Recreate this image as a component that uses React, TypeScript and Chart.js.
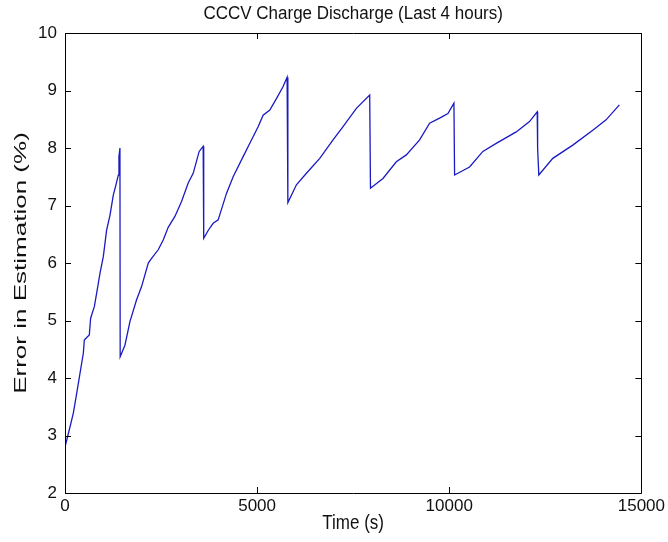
import React, { useEffect, useRef } from "react";
import { Chart, registerables } from "chart.js";

Chart.register(...registerables);

const TITLE = "CCCV Charge Discharge (Last 4 hours)";
const X_TITLE = "Time (s)";
const Y_TITLE = "Error in Estimation (%)";

const timeSec: number[] = [
  0, 112, 217, 303, 390, 477, 503, 560, 633, 667, 763, 823, 910, 997, 1083, 1170, 1257, 1326, 1387, 1404, 1430,
  1436, 1560, 1690, 1863, 1993, 2167, 2253, 2426, 2556, 2686, 2860, 3033, 3206, 3336, 3492, 3596,
  3610, 3730, 3856, 3986, 4203, 4376, 4636, 4853, 5026, 5156, 5330, 5503, 5676, 5780,
  5800, 6023, 6283, 6630, 6976, 7236, 7583, 7930,
  7950, 8275, 8623, 8883, 9229, 9489, 9749, 9966, 10122,
  10139, 10529, 10875, 11223, 11743, 12089, 12289,
  12300, 12331, 12695, 13215, 13735, 14082, 14428,
];
const errorPct: number[] = [
  2.80, 3.10, 3.39, 3.73, 4.08, 4.43, 4.66, 4.70, 4.75, 5.04, 5.24, 5.47, 5.82, 6.11, 6.57, 6.83, 7.18, 7.36, 7.53, 7.85, 8.00,
  4.37, 4.57, 4.98, 5.36, 5.59, 6.00, 6.08, 6.23, 6.40, 6.62, 6.81, 7.07, 7.39, 7.56, 7.94, 8.03,
  6.43, 6.57, 6.69, 6.75, 7.21, 7.50, 7.85, 8.14, 8.37, 8.57, 8.66, 8.86, 9.07, 9.23,
  7.05, 7.36, 7.56, 7.82, 8.14, 8.37, 8.69, 8.92,
  7.30, 7.47, 7.76, 7.88, 8.14, 8.43, 8.52, 8.60, 8.78,
  7.53, 7.67, 7.94, 8.08, 8.28, 8.46, 8.63,
  8.00, 7.53, 7.82, 8.05, 8.31, 8.49, 8.75,
];

const X_MIN = 0, X_MAX = 15000, X_STEP = 5000;
const Y_MIN = 2, Y_MAX = 10, Y_STEP = 1;

const TEXT_FONT = "'Liberation Sans', Arial, sans-serif";

const framePlugin = {
  id: "matlabFrame",
  afterDraw(chart: any) {
    const ctx = chart.ctx as CanvasRenderingContext2D;
    const { left, right, top, bottom } = chart.chartArea;
    const xs = chart.scales.x;
    const ys = chart.scales.y;
    ctx.save();
    ctx.strokeStyle = "#000";
    ctx.lineWidth = 1;
    ctx.beginPath();
    ctx.rect(Math.round(left) + 0.5, Math.round(top) + 0.5, Math.round(right - left), Math.round(bottom - top));
    ctx.stroke();
    const tl = 6;
    ctx.beginPath();
    xs.ticks.forEach((t: any) => {
      const p = Math.round(xs.getPixelForValue(t.value)) + 0.5;
      ctx.moveTo(p, bottom);
      ctx.lineTo(p, bottom - tl);
      ctx.moveTo(p, top);
      ctx.lineTo(p, top + tl);
    });
    ys.ticks.forEach((t: any) => {
      const p = Math.round(ys.getPixelForValue(t.value)) + 0.5;
      ctx.moveTo(left, p);
      ctx.lineTo(left + tl, p);
      ctx.moveTo(right, p);
      ctx.lineTo(right - tl, p);
    });
    ctx.stroke();

    ctx.fillStyle = "#111";
    ctx.textAlign = "center";
    ctx.textBaseline = "middle";
    const cx = (left + right) / 2;
    ctx.save();
    ctx.translate(cx, 13.5);
    ctx.scale(1, 1.1);
    ctx.font = `17px ${TEXT_FONT}`;
    ctx.fillText(TITLE, 0, 0);
    ctx.restore();
    ctx.save();
    ctx.translate(cx, 523);
    ctx.scale(1, 1.2);
    ctx.font = `17px ${TEXT_FONT}`;
    ctx.fillText(X_TITLE, 0, 0);
    ctx.restore();
    ctx.save();
    ctx.translate(21, (top + bottom) / 2);
    ctx.rotate(-Math.PI / 2);
    ctx.scale(1.53, 1);
    ctx.font = `17px ${TEXT_FONT}`;
    ctx.fillText(Y_TITLE, 0, 0);
    ctx.restore();
    ctx.restore();
  },
};

export default function App() {
  const ref = useRef<HTMLCanvasElement | null>(null);
  useEffect(() => {
    if (!ref.current) return;
    const points = timeSec.map((t, i) => ({ x: t, y: errorPct[i] }));
    const chart = new Chart(ref.current, {
      type: "line",
      data: {
        datasets: [
          {
            data: points,
            borderColor: "#1a1ac4",
            borderWidth: 1.3,
            pointRadius: 0,
            tension: 0,
            fill: false,
          },
        ],
      },
      options: {
        animation: false,
        responsive: false,
        maintainAspectRatio: false,
        parsing: false as any,
        layout: { padding: { top: 33, right: 26, left: 0, bottom: 0 } },
        plugins: {
          legend: { display: false },
          title: { display: false },
          tooltip: { enabled: false },
        },
        scales: {
          x: {
            type: "linear",
            min: X_MIN,
            max: X_MAX,
            border: { display: false },
            grid: { display: false, drawTicks: false },
            ticks: {
              stepSize: X_STEP,
              color: "#111",
              padding: 3,
              maxRotation: 0,
              font: { family: TEXT_FONT, size: 17 },
              callback: (v: any) => String(v),
            },
            afterFit: (s: any) => {
              s.height = 49;
            },
          },
          y: {
            type: "linear",
            min: Y_MIN,
            max: Y_MAX,
            border: { display: false },
            grid: { display: false, drawTicks: false },
            ticks: {
              stepSize: Y_STEP,
              color: "#111",
              padding: 8,
              font: { family: TEXT_FONT, size: 17 },
              callback: (v: any) => String(v),
            },
            afterFit: (s: any) => {
              s.width = 65;
            },
          },
        },
      },
      plugins: [framePlugin],
    });
    return () => chart.destroy();
  }, []);
  return (
    <div style={{ position: "absolute", left: 0, top: 0, width: 668, height: 542, background: "#fff" }}>
      <canvas ref={ref} width={668} height={542} style={{ width: 668, height: 542 }} />
    </div>
  );
}
